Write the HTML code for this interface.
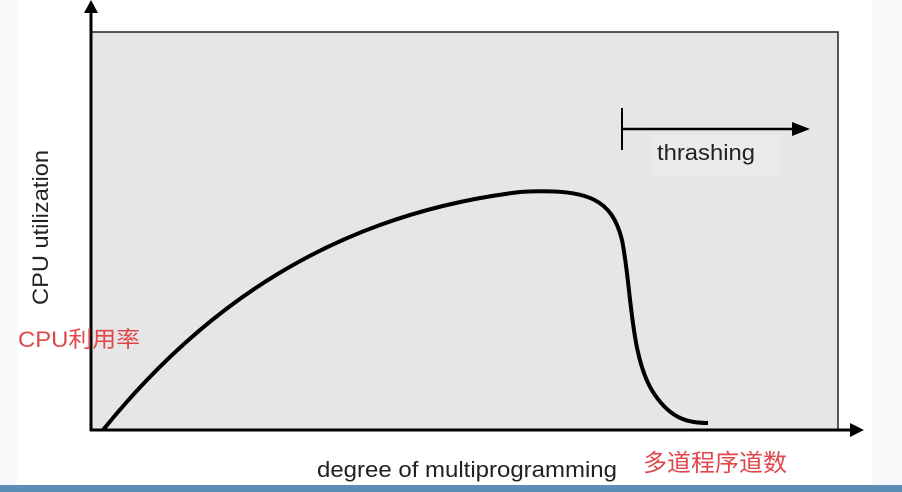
<!DOCTYPE html>
<html><head><meta charset="utf-8"><style>
html,body{margin:0;padding:0;width:902px;height:492px;overflow:hidden;background:#f6f8fa;}
</style></head><body>
<svg width="902" height="492" viewBox="0 0 902 492" xmlns="http://www.w3.org/2000/svg" style="position:absolute;left:0;top:0">
<rect x="0" y="0" width="902" height="492" fill="#f6f8fa"/>
<rect x="17" y="0" width="855" height="485" fill="#ffffff"/>
<rect x="0" y="485" width="902" height="7" fill="#5b8db8"/>
<rect x="91" y="32" width="747" height="398" fill="#e6e6e6" stroke="#222" stroke-width="1.5"/>
<rect x="652" y="135" width="128" height="40" fill="#ebebeb"/>
<line x1="91" y1="10" x2="91" y2="431" stroke="#000" stroke-width="3"/>
<polygon points="91,0 84,13 98,13" fill="#000"/>
<line x1="90" y1="430" x2="852" y2="430" stroke="#000" stroke-width="3"/>
<polygon points="864,430 850,423 850,437" fill="#000"/>
<path d="M103,430 C200,310 330,215 520,192 C590,188 612,200 622,240 C632,290 630,360 655,395 C672,420 690,423 708,423" fill="none" stroke="#000" stroke-width="4"/>
<line x1="622" y1="108" x2="622" y2="150" stroke="#000" stroke-width="2"/>
<line x1="622" y1="129" x2="796" y2="129" stroke="#000" stroke-width="2.5"/>
<polygon points="810,129 792,122 792,136" fill="#000"/>
<text x="657" y="160" font-family="Liberation Sans, sans-serif" font-size="22" fill="#222" textLength="98" lengthAdjust="spacingAndGlyphs">thrashing</text>
<text transform="translate(48,305) rotate(-90)" font-family="Liberation Sans, sans-serif" font-size="22" fill="#222" textLength="155" lengthAdjust="spacingAndGlyphs">CPU utilization</text>
<text x="18" y="347" font-family="Liberation Sans, 'Noto Sans CJK SC', sans-serif" font-size="22" fill="#e0474c" textLength="122" lengthAdjust="spacingAndGlyphs">CPU利用率</text>
<text x="317" y="477" font-family="Liberation Sans, sans-serif" font-size="22" fill="#222" textLength="300" lengthAdjust="spacingAndGlyphs">degree of multiprogramming</text>
<text x="643" y="471" font-family="Liberation Sans, 'Noto Sans CJK SC', sans-serif" font-size="24" fill="#e0474c" textLength="144" lengthAdjust="spacingAndGlyphs">多道程序道数</text>
</svg>
</body></html>
